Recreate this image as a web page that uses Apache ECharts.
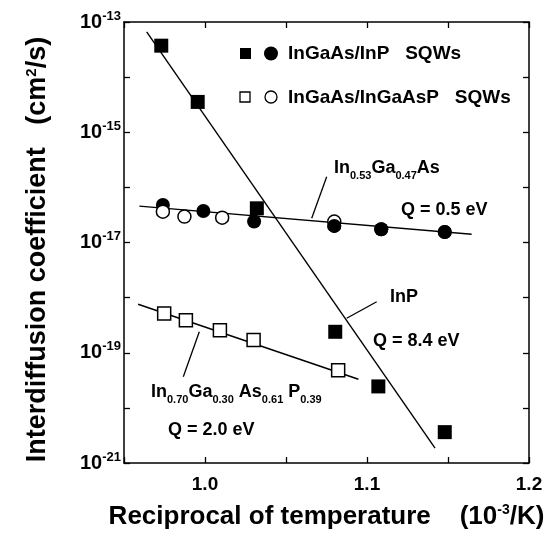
<!DOCTYPE html>
<html>
<head>
<meta charset="utf-8">
<script src="https://cdn.jsdelivr.net/npm/echarts@6/dist/echarts.min.js"></script>
<style>
  html, body { margin: 0; padding: 0; background: #fff; }
  #chart { width: 549px; height: 542px; }
</style>
</head>
<body>
<div id="chart"></div>
<script>
const FONT = '"Liberation Sans", Arial, Helvetica, sans-serif';

// Reciprocal temperature (10^-3 /K) and interdiffusion coefficient (cm^2/s)
// InGaAs/InP SQWs: filled squares (InP side), filled circles (InGaAs side)
const inpSqX   = [0.973, 0.9955, 1.032, 1.0804, 1.107, 1.148];
const inpSqD   = [3.72e-14, 3.55e-15, 4.17e-17, 2.40e-19, 2.45e-20, 3.63e-21];
const inpCircX = [0.974, 0.999, 1.0303, 1.0798, 1.1088, 1.148];
const inpCircD = [4.79e-17, 3.72e-17, 2.40e-17, 2.00e-17, 1.74e-17, 1.55e-17];
// InGaAs/InGaAsP SQWs: open circles (InGaAs side), open squares (InGaAsP side)
const qCircX   = [0.974, 0.9873, 1.0106, 1.0798];
const qCircD   = [3.63e-17, 2.95e-17, 2.82e-17, 2.40e-17];
const qSqX     = [0.9748, 0.9882, 1.0092, 1.030, 1.0822];
const qSqD     = [5.13e-19, 3.89e-19, 2.57e-19, 1.70e-19, 4.79e-20];

// Arrhenius fit lines (end points)
const fitInPX      = [0.964, 1.142];
const fitInPD      = [6.6e-14, 1.86e-21];
const fitInGaAsX   = [0.9595, 1.1646];
const fitInGaAsD   = [4.57e-17, 1.41e-17];
const fitInGaAsPX  = [0.9587, 1.0947];
const fitInGaAsPD  = [7.59e-19, 3.31e-20];

// Tick labels
const xTickLabels = [1.0, 1.1, 1.2];
const yLabelExps  = [-21, -19, -17, -15, -13];

// The y axis is a decade axis: values are placed by log10(D)
const zip = (xs, ys) => xs.map((x, i) => [x, Math.log10(ys[i])]);
const inpCircPts = zip(inpCircX, inpCircD);

const axisColor = '#000';
const tickStyle = { inside: true, length: 6, lineStyle: { color: axisColor, width: 1.3 } };
const lineStyleAxis = { lineStyle: { color: axisColor, width: 1.5 } };

const textBold = (size) => ({ fontSize: size, fontWeight: 'bold', fontFamily: FONT, color: '#000' });

const chart = echarts.init(document.getElementById('chart'), null, { renderer: 'canvas' });

const filledCircle = { type: 'scatter', symbol: 'circle', symbolSize: 14, itemStyle: { color: '#000', opacity: 1 } };

const option = {
  animation: false,
  backgroundColor: '#fff',
  grid: { left: 124, right: 20, top: 22, bottom: 79, containLabel: false },
  xAxis: [
    {
      type: 'value', position: 'bottom', min: 0.95, max: 1.2, interval: 0.05,
      axisLine: lineStyleAxis, axisTick: tickStyle, splitLine: { show: false },
      axisLabel: {
        margin: 12, ...textBold(19),
        formatter: v => xTickLabels.some(t => Math.abs(t - v) < 1e-6) ? v.toFixed(1) : ''
      },
      name: '{m|Reciprocal of temperature    (10}{sup|-3}{m|/K)}',
      nameLocation: 'middle', nameGap: 40,
      nameTextStyle: {
        rich: {
          m: { ...textBold(26), lineHeight: 28 },
          sup: { ...textBold(14), lineHeight: 14, padding: [0, 0, 14, 0] }
        }
      }
    },
    {
      type: 'value', position: 'top', min: 0.95, max: 1.2, interval: 0.05,
      axisLine: lineStyleAxis, axisTick: tickStyle, splitLine: { show: false },
      axisLabel: { show: false }
    }
  ],
  yAxis: [
    {
      type: 'value', min: -21, max: -13, interval: 1, position: 'left',
      axisLine: lineStyleAxis, axisTick: tickStyle, splitLine: { show: false },
      axisLabel: {
        margin: 3,
        formatter: v => {
          const e = Math.round(v);
          return yLabelExps.includes(e) ? '{b|10}{sup|' + e + '}' : '';
        },
        rich: {
          b: { ...textBold(20), lineHeight: 22 },
          sup: { ...textBold(13), lineHeight: 13, padding: [0, 0, 12, 0] }
        }
      },
      name: '{m|Interdiffusion coefficient   (cm}{sup|2}{m|/s)}',
      nameLocation: 'middle', nameGap: 72, nameRotate: 90,
      nameTextStyle: {
        padding: [0, 14, 0, 0],
        rich: {
          m: { ...textBold(27), lineHeight: 28 },
          sup: { ...textBold(15), lineHeight: 15, padding: [0, 0, 13, 0] }
        }
      }
    },
    {
      type: 'value', min: -21, max: -13, interval: 1, position: 'right',
      axisLine: lineStyleAxis, axisTick: tickStyle, splitLine: { show: false },
      axisLabel: { show: false }
    }
  ],
  series: [
    { type: 'line', data: zip(fitInPX, fitInPD), symbol: 'none', lineStyle: { color: '#000', width: 1.4 }, z: 1 },
    { type: 'line', data: zip(fitInGaAsX, fitInGaAsD), symbol: 'none', lineStyle: { color: '#000', width: 1.4 }, z: 1 },
    { type: 'line', data: zip(fitInGaAsPX, fitInGaAsPD), symbol: 'none', lineStyle: { color: '#000', width: 1.4 }, z: 1 },
    { ...filledCircle, data: inpCircPts, z: 2 },
    { type: 'scatter', data: zip(inpSqX, inpSqD), symbol: 'rect', symbolSize: 14,
      itemStyle: { color: '#000', opacity: 1 }, z: 3 },
    { type: 'scatter', data: zip(qCircX, qCircD), symbol: 'circle', symbolSize: 13,
      itemStyle: { color: '#fff', borderColor: '#000', borderWidth: 1.5, opacity: 1 }, z: 4 },
    { type: 'scatter', data: zip(qSqX, qSqD), symbol: 'rect', symbolSize: 13,
      itemStyle: { color: '#fff', borderColor: '#000', borderWidth: 1.5, opacity: 1 }, z: 4 },
    // high-1/T filled circles sit on top of the overlapping open circle
    { ...filledCircle, data: inpCircPts.filter(p => p[0] > 1.05), z: 5 }
  ]
};

chart.setOption(option);

// Legend and annotations
const subRich = {
  m: { ...textBold(18), lineHeight: 24 },
  s: { ...textBold(11), lineHeight: 11, padding: [15, 0, 0, 0] }
};
const plainText = (x, y, text, size) => ({
  type: 'text', x, y, z: 10,
  style: { text, font: 'bold ' + size + 'px ' + FONT, fill: '#000', verticalAlign: 'middle', align: 'left' }
});
const richText = (x, y, text) => ({
  type: 'text', x, y, z: 10,
  style: { text, rich: subRich, fill: '#000', verticalAlign: 'middle', align: 'left' }
});
const leader = (x1, y1, x2, y2) => ({
  type: 'line', z: 10, shape: { x1, y1, x2, y2 }, style: { stroke: '#000', lineWidth: 1.3 }
});

chart.setOption({
  graphic: [
    { type: 'rect', z: 10, shape: { x: 240, y: 48, width: 11, height: 11 }, style: { fill: '#000' } },
    { type: 'circle', z: 10, shape: { cx: 271, cy: 53.5, r: 7 }, style: { fill: '#000' } },
    plainText(288, 54, 'InGaAs/InP   SQWs', 19),
    { type: 'rect', z: 10, shape: { x: 240, y: 92, width: 10, height: 10 }, style: { fill: '#fff', stroke: '#000', lineWidth: 1.3 } },
    { type: 'circle', z: 10, shape: { cx: 271, cy: 97, r: 6 }, style: { fill: '#fff', stroke: '#000', lineWidth: 1.3 } },
    plainText(288, 98, 'InGaAs/InGaAsP   SQWs', 19),

    richText(334, 168, '{m|In}{s|0.53}{m|Ga}{s|0.47}{m|As}'),
    leader(326.7, 176.7, 311.7, 218.3),
    plainText(401, 210, 'Q = 0.5 eV', 18),

    plainText(390, 297, 'InP', 18),
    leader(376.7, 301.7, 346.7, 318.3),
    plainText(373, 341, 'Q = 8.4 eV', 18),

    richText(151, 392, '{m|In}{s|0.70}{m|Ga}{s|0.30}{m| As}{s|0.61}{m| P}{s|0.39}'),
    leader(183.3, 376.7, 199.3, 331.7),
    plainText(168, 430, 'Q = 2.0 eV', 18)
  ]
});
</script>
</body>
</html>
